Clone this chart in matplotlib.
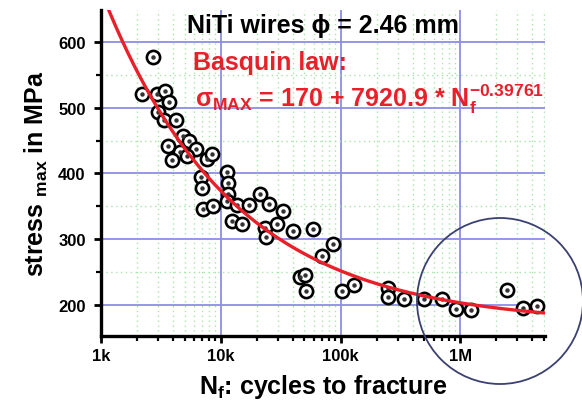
import numpy as np
import matplotlib
matplotlib.use('Agg')
import matplotlib.pyplot as plt
from matplotlib.patches import Ellipse
from matplotlib.ticker import FixedLocator, FixedFormatter, NullFormatter, LogLocator

plt.rcParams['font.family'] = ['Liberation Sans', 'DejaVu Sans']
plt.rcParams['mathtext.fontset'] = 'custom'
plt.rcParams['mathtext.rm'] = 'Liberation Sans'
plt.rcParams['mathtext.bf'] = 'Liberation Sans:bold'
plt.rcParams['mathtext.it'] = 'Liberation Sans:italic'

# fatigue data: cycles to fracture, max stress (MPa)
cycles = [2700, 2190, 2920, 3430, 3720, 3010, 3360, 4230, 4820, 5440,
          3650, 4570, 6220, 5200, 3900, 7640, 8460, 6810, 6940, 7070,
          8670, 11220, 11430, 11570, 11220, 13600, 17340, 12360, 14970, 21280,
          25470, 33340, 23450, 29370, 23880, 39900, 59400, 87300, 69800, 45900,
          50600, 51300, 102600, 129200, 248400, 248400, 342000, 499000, 706000, 925000,
          1227000, 2450000, 3330000, 4360000]
stress = [578, 521, 521, 526, 508, 493, 482, 482, 457, 450,
          442, 433, 437, 426, 420, 422, 429, 394, 377, 346,
          350, 402, 385, 369, 358, 351, 351, 328, 323, 369,
          354, 343, 316, 322, 303, 312, 315, 292, 274, 242,
          245, 221, 220, 230, 225, 212, 209, 208, 209, 193,
          191, 222, 195, 197]

# Basquin law parameters (as printed on the chart)
fit_a, fit_b, fit_exp = 170, 7920.9, -0.39761

x_ticks = [1e3, 1e4, 1e5, 1e6]
x_labels = ['1k', '10k', '100k', '1M']
y_ticks = [200, 300, 400, 500, 600]
y_minor = [250, 350, 450, 550]

red = '#e8202a'

fig = plt.figure(figsize=(5.82, 4.10), dpi=100)
ax = fig.add_axes([101/582, 73/410, 444/582, 326/410])

n_fit = np.logspace(3, np.log10(5.1e6), 300)
ax.plot(n_fit, fit_a + fit_b * n_fit ** fit_exp, color=red, lw=2.4, zorder=5)
ax.plot(cycles, stress, 'o', mfc='white', mec='black', ms=9.5, mew=1.9, zorder=4)
ax.plot(cycles, stress, 'o', color='#333333', ms=2.2, zorder=4)

ax.set_xscale('log')
ax.set_xlim(1e3, 5.1e6)
ax.set_ylim(152, 649)

ax.xaxis.set_major_locator(FixedLocator(x_ticks))
ax.xaxis.set_major_formatter(FixedFormatter(x_labels))
ax.xaxis.set_minor_locator(LogLocator(base=10, subs=np.arange(2, 10)))
ax.xaxis.set_minor_formatter(NullFormatter())
ax.yaxis.set_major_locator(FixedLocator(y_ticks))
ax.yaxis.set_minor_locator(FixedLocator(y_minor))

ax.grid(which='major', color='#8e8ee6', lw=1.3, zorder=1)
ax.grid(which='minor', color='#a6e6a6', lw=1.0, ls=(0, (1, 2.5)), zorder=0)
ax.set_axisbelow(True)

for s in ['top', 'right']:
    ax.spines[s].set_visible(False)
for s in ['left', 'bottom']:
    ax.spines[s].set_linewidth(2.4)

ax.tick_params(which='major', direction='out', length=5, width=2, labelsize=12, pad=6)
ax.tick_params(which='minor', direction='out', length=3.5, width=1.6)
ax.tick_params(axis='x', pad=4)
for lab in ax.get_xticklabels() + ax.get_yticklabels():
    lab.set_fontweight('bold')

ax.set_xlabel(r'N$_{\mathbf{f}}$: cycles to fracture', fontsize=18, fontweight='bold', labelpad=6)
ax.set_ylabel(r'stress $_{\mathbf{max}}$ in MPa', fontsize=18, fontweight='bold', labelpad=6)

ax.text(0.194, 0.9325, 'NiTi wires ϕ = 2.46 mm', transform=ax.transAxes,
        fontsize=18, fontweight='bold', color='black', va='baseline')
ax.text(0.207, 0.819, 'Basquin law:', transform=ax.transAxes,
        fontsize=18, fontweight='bold', color=red, va='baseline')
ax.text(0.212, 0.7055,
        r'σ$_{\mathbf{MAX}}$ = 170 + 7920.9 * N$_{\mathbf{f}}^{\mathbf{-0.39761}}$',
        transform=ax.transAxes, fontsize=18, fontweight='bold', color=red, va='baseline')

fig.patches.append(Ellipse((500/582, 1 - 302/410), 166/582, 166/410,
                           transform=fig.transFigure, fill=False,
                           edgecolor='#3a4170', lw=1.3, zorder=10))

plt.savefig('out.png', dpi=100)
plt.close()
